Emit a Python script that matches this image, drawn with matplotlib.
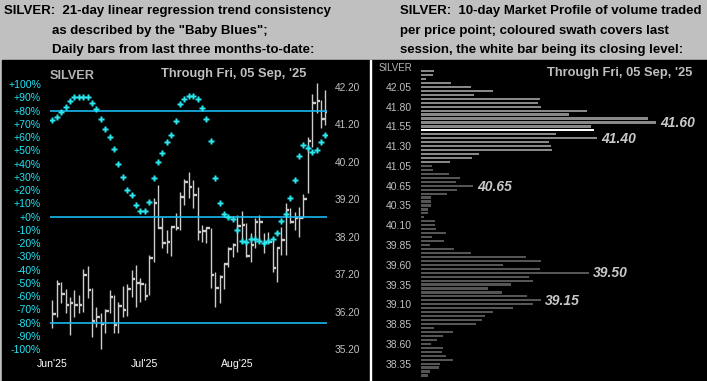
import matplotlib
matplotlib.use('Agg')
import matplotlib.pyplot as plt
from matplotlib.patches import Rectangle

plt.rcParams['font.family'] = ['Liberation Sans', 'DejaVu Sans']

W, H = 707, 381

# ---- left: daily silver bars, Jun'25 to Fri 05 Sep '25
highs = [36.51, 37.04, 36.99, 36.80, 36.60, 36.78, 36.64, 37.35, 37.42, 36.83,
         36.33, 36.15, 36.26, 36.78, 36.64, 36.46, 36.88, 36.94, 37.31, 37.44,
         37.10, 36.96, 37.71, 39.23, 39.58, 38.73, 38.38, 38.47, 38.83, 39.39,
         39.73, 39.92, 39.72, 39.54, 38.51, 38.47, 38.43, 37.27, 37.18, 37.51,
         37.93, 38.02, 38.78, 38.90, 38.56, 38.31, 38.71, 38.78, 38.29, 38.33,
         38.11, 37.93, 38.47, 39.09, 38.96, 38.87, 39.00, 39.33, 40.87, 42.01,
         42.30, 41.85, 42.12]
lows = [35.77, 36.06, 36.44, 36.17, 35.57, 36.06, 36.15, 36.20, 36.55, 35.53,
        35.80, 35.20, 35.64, 36.15, 35.64, 35.62, 36.06, 36.08, 36.60, 36.33,
        36.46, 36.51, 36.64, 37.53, 38.43, 37.89, 37.77, 37.69, 38.38, 38.38,
        39.05, 39.23, 38.96, 38.11, 38.07, 38.02, 36.82, 36.31, 36.42, 36.80,
        37.40, 37.67, 37.80, 38.07, 37.67, 37.53, 37.89, 38.11, 37.76, 38.02,
        37.27, 37.00, 37.71, 37.71, 38.56, 38.38, 38.20, 38.71, 39.36, 40.60,
        41.50, 41.10, 41.18]
closes = [36.14, 36.94, 36.68, 36.38, 36.44, 36.38, 36.38, 37.19, 36.78, 35.94,
          36.06, 35.87, 36.22, 36.58, 35.85, 36.36, 36.25, 36.81, 37.06, 36.96,
          36.94, 36.62, 37.64, 39.09, 38.43, 38.02, 38.07, 38.45, 38.43, 39.27,
          39.67, 39.54, 39.31, 38.33, 38.36, 38.43, 37.18, 36.82, 37.13, 37.47,
          37.86, 37.98, 38.49, 38.51, 37.69, 37.98, 38.59, 38.60, 38.02, 38.07,
          37.36, 37.89, 38.11, 38.91, 38.60, 38.71, 38.71, 39.21, 40.76, 41.76,
          41.83, 41.35, 41.54]
# Baby Blues: 21-day linear regression trend consistency (%)
blues = [73, 75, 79, 83, 87, 90, 90, 90, 90, 86,
         81, 74, 66, 60, 51, 40, 30, 20, 16, 9,
         4, 4, 11, 29, 41, 48, 56, 62, 72, 85,
         89, 91, 91, 89, 82, 74, 57, 29, 10, 2,
         0, -2, -10, -18, -19, -17, -17, -18, -20, -18,
         -17, -12, -3, 2, 14, 28, 46, 54, 52, 49,
         50, 56, 62]
month_labels = ["Jun'25", "Jul'25", "Aug'25"]
month_idx = [0, 21, 42]
pct_ticks = list(range(-100, 101, 10))
price_ticks = [35.20, 36.20, 37.20, 38.20, 39.20, 40.20, 41.20, 42.20]

# ---- right: 10-day market profile (volume per price row, top row first)
profile_vol = [13, 12, 5, 30, 50, 72, 53, 119, 117, 120,
               166, 148, 227, 235, 170, 173, 135, 176, 128, 130,
               131, 58, 51, 29, 11, 12, 28, 39, 35, 52,
               36, 26, 10, 10, 10, 7, 7, 3, 14, 14,
               15, 25, 11, 23, 9, 33, 50, 105, 120, 82,
               119, 168, 108, 112, 90, 67, 81, 106, 120, 112,
               92, 72, 64, 61, 55, 13, 32, 22, 16, 10,
               22, 21, 25, 32, 19, 18, 9, 7]
profile_labels = ['42.05', '41.80', '41.55', '41.30', '41.05', '40.65', '40.35', '40.10',
                  '39.85', '39.60', '39.35', '39.10', '38.85', '38.60', '38.35']
profile_label_rows = [4, 9, 14, 19, 24, 29, 34, 39, 44, 49, 54, 59, 64, 69, 74]
peak_labels = ['41.60', '41.40', '40.65', '39.50', '39.15']
peak_rows = [13, 17, 29, 51, 58]
close_row = 15
swath_rows = range(0, 24)


def fig_rect(x0, y0, x1, y1):
    return [x0 / W, 1 - y1 / H, (x1 - x0) / W, (y1 - y0) / H]


fig = plt.figure(figsize=(W / 100, H / 100), dpi=100)
fig.patch.set_facecolor('#c0c0c0')
fig.patches.append(Rectangle((1.5 / W, 0), (W - 1.5) / W, 321 / H,
                             transform=fig.transFigure, color='black', zorder=-10))
fig.patches.append(Rectangle((369.5 / W, 0), 1.1 / W, 321 / H,
                             transform=fig.transFigure, color='white', zorder=-9))

hdr = dict(fontsize=9.5, fontweight='bold', color='black', va='center', ha='left')
fig.text(3.5 / W, 1 - 11 / H, 'SILVER:  21-day linear regression trend consistency', **hdr)
fig.text(51.5 / W, 1 - 31 / H, 'as described by the "Baby Blues";', **hdr)
fig.text(51.5 / W, 1 - 50.5 / H, 'Daily bars from last three months-to-date:', **hdr)
fig.text(400 / W, 1 - 11 / H, 'SILVER:  10-day Market Profile of volume traded', **hdr)
fig.text(400 / W, 1 - 31 / H, 'per price point; coloured swath covers last', **hdr)
fig.text(400 / W, 1 - 50.5 / H, 'session, the white bar being its closing level:', **hdr)

# ---- left chart: price bars on ax, Baby Blues on the twin (drawn on top)
idx = list(range(len(closes)))
ax = fig.add_axes(fig_rect(50, 60, 327, 355))
ax.set_facecolor('none')
ax.set_xlim(-0.52, 62.36)
ax.set_ylim(35.04, 42.921)
ax.vlines(idx, lows, highs, color='#cccccc', lw=1.0)
ax.hlines(closes, idx, [i + 0.8 for i in idx], color='#cccccc', lw=1.7)
ax.set_xticks(month_idx, month_labels)
ax.tick_params(axis='x', length=0, pad=3.2, labelcolor='white', labelsize=7.6)

ax2 = ax.twinx()
ax2.set_ylim(-104.38, 118.26)
ax2.hlines([80, 0, -80], -0.52, 62.36, color='#1ab8f0', lw=1.2)
ax2.plot(idx, blues, 'P', ms=4.5, color='#2ae8f0', mec='none')
ax2.yaxis.tick_left()
ax2.set_yticks(pct_ticks, [f'{v:+d}%' for v in pct_ticks])
ax2.tick_params(axis='y', length=0, pad=6.5, labelcolor='#22e4f4', labelsize=7.6)

ax.yaxis.tick_right()
ax.set_yticks(price_ticks, [f'{p:.2f}' for p in price_ticks])
ax.tick_params(axis='y', length=0, pad=5.8, labelcolor='#c0c0c0', labelsize=7.3,
               left=False, labelleft=False, right=False, labelright=True)
for a in (ax, ax2):
    for s in a.spines.values():
        s.set_visible(False)

fig.text(50 / W, 1 - 76 / H, 'SILVER', fontsize=9.2, fontweight='bold',
         color='#b4b4b4', va='center', ha='left')
fig.text(306 / W, 1 - 73.5 / H, "Through Fri, 05 Sep, '25", fontsize=9.3,
         fontweight='bold', color='#c0c0c0', va='center', ha='right')

# ---- right chart: market profile
axp = fig.add_axes(fig_rect(421, 60, W, H))
axp.set_facecolor('none')
rows = list(range(len(profile_vol)))
colors = ['#888888' if r in swath_rows else '#555555' for r in rows]
colors[close_row] = '#ffffff'
axp.barh(rows, profile_vol, height=0.55, color=colors)
axp.set_xlim(0, W - 421)
axp.set_ylim(78.4, -2.8)
axp.set_xticks([])
axp.set_yticks(profile_label_rows, profile_labels)
axp.tick_params(axis='y', length=0, pad=6.5, labelcolor='#c0c0c0', labelsize=7.5)
for s in axp.spines.values():
    s.set_visible(False)
for lab, r in zip(peak_labels, peak_rows):
    axp.text(profile_vol[r] + 4, r + 0.2, lab, ha='left', va='center', fontsize=10,
             fontweight='bold', fontstyle='italic', color='#c8c8c8')

fig.text(412 / W, 1 - 67.7 / H, 'SILVER', fontsize=7, color='#b4b4b4',
         va='center', ha='right')
fig.text(692.7 / W, 1 - 73.3 / H, "Through Fri, 05 Sep, '25", fontsize=9.3,
         fontweight='bold', color='#c0c0c0', va='center', ha='right')

fig.savefig('out.png', dpi=100, facecolor=fig.get_facecolor())
